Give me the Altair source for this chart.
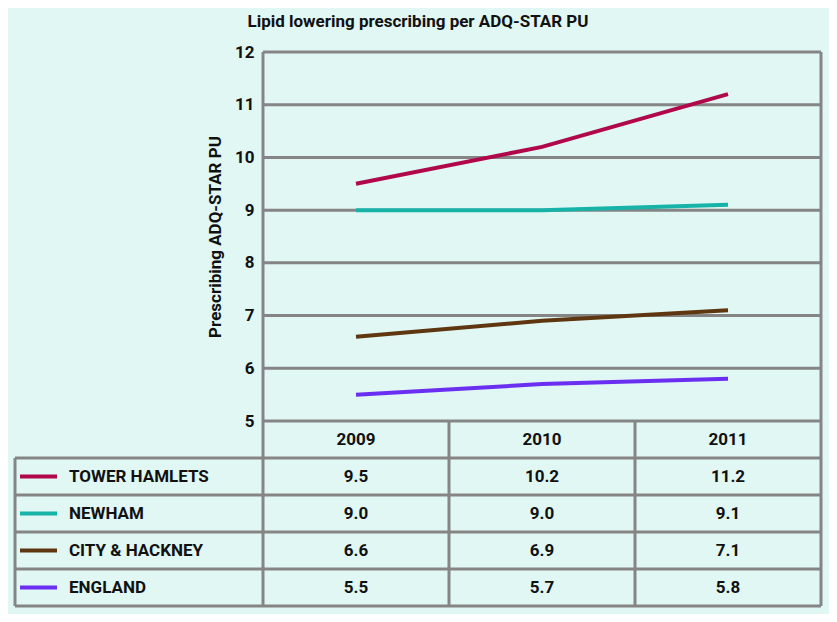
import altair as alt
import pandas as pd

# ---- data ----
years = [2009, 2010, 2011]
series = ["TOWER HAMLETS", "NEWHAM", "CITY & HACKNEY", "ENGLAND"]
tower_hamlets = [9.5, 10.2, 11.2]
newham = [9.0, 9.0, 9.1]
city_hackney = [6.6, 6.9, 7.1]
england = [5.5, 5.7, 5.8]
colors = ["#b0084a", "#17b3a8", "#5e3710", "#6a2ff0"]
y_ticks = [5, 6, 7, 8, 9, 10, 11, 12]
title_text = "Lipid lowering prescribing per ADQ-STAR PU"
y_title = "Prescribing ADQ-STAR PU"

FONT = "Roboto"
GRID = "#858585"
INK = "#111111"
BG = "#e0f7f4"
FS = 17

values = [tower_hamlets, newham, city_hackney, england]
rows = []
for i, s in enumerate(series):
    for j, yr in enumerate(years):
        rows.append({"series": s, "year": yr, "value": values[i][j], "row": i + 1.5,
                     "label": f"{values[i][j]:.1f}"})
df = pd.DataFrame(rows)

# ---- layout ----
W, H = 806, 554          # whole grid incl. table
PLOT_H = 369             # line-chart part
COL_PX = 186
label_units = 248 / COL_PX
x_min = years[0] - 0.5 - label_units
x_max = years[-1] + 0.5
n_rows = len(series) + 1

xs = alt.Scale(domain=[x_min, x_max], nice=False, zero=False)
ys_plot = alt.Scale(domain=[min(y_ticks), max(y_ticks)], range=[PLOT_H, 0], nice=False, zero=False)
ys_tab = alt.Scale(domain=[0, n_rows], range=[PLOT_H, H], nice=False, zero=False)
cscale = alt.Scale(domain=series, range=colors)

grid_df = pd.DataFrame({"y": y_ticks, "x": years[0] - 0.5, "x2": years[-1] + 0.5})
pv_df = pd.DataFrame({"x": [years[0] - 0.5, years[-1] + 0.5], "y": min(y_ticks), "y2": max(y_ticks)})
th_df = pd.DataFrame({"r": list(range(1, n_rows + 1)), "x": x_min, "x2": x_max})
edges = [y - 0.5 for y in years] + [years[-1] + 0.5]
tv_df = pd.DataFrame({"x": edges + [x_min], "r": [0] * len(edges) + [1], "r2": n_rows})
head_df = pd.DataFrame({"year": years, "r": 0.5, "label": [str(y) for y in years]})
lab_df = pd.DataFrame({"series": series, "r": [i + 1.5 for i in range(len(series))], "x": x_min})

grid = alt.Chart(grid_df).mark_rule(color=GRID, strokeWidth=3).encode(
    x=alt.X("x:Q", scale=xs, axis=None),
    x2="x2:Q",
    y=alt.Y("y:Q", scale=ys_plot, axis=alt.Axis(
        values=y_ticks, offset=-int(round(label_units * COL_PX)), grid=False, domain=False,
        ticks=False, labelFont=FONT, labelFontSize=FS, labelFontWeight="bold", labelColor=INK,
        labelPadding=9, title=y_title, titleFont=FONT, titleFontSize=17, titleFontWeight="bold",
        titleColor=INK, titlePadding=10)),
)
plot_v = alt.Chart(pv_df).mark_rule(color=GRID, strokeWidth=3).encode(
    x=alt.X("x:Q", scale=xs, axis=None),
    y=alt.Y("y:Q", scale=ys_plot, axis=None), y2="y2:Q",
)
lines = alt.Chart(df).mark_line(strokeWidth=4).encode(
    x=alt.X("year:Q", scale=xs, axis=None),
    y=alt.Y("value:Q", scale=ys_plot, axis=None),
    color=alt.Color("series:N", scale=cscale, legend=None),
    detail="series:N",
)
tab_h = alt.Chart(th_df).mark_rule(color=GRID, strokeWidth=3).encode(
    x=alt.X("x:Q", scale=xs, axis=None), x2="x2:Q",
    y=alt.Y("r:Q", scale=ys_tab, axis=None),
)
tab_v = alt.Chart(tv_df).mark_rule(color=GRID, strokeWidth=3).encode(
    x=alt.X("x:Q", scale=xs, axis=None),
    y=alt.Y("r:Q", scale=ys_tab, axis=None), y2="r2:Q",
)
head = alt.Chart(head_df).mark_text(font=FONT, fontSize=FS, fontWeight="bold", color=INK, baseline="middle").encode(
    x=alt.X("year:Q", scale=xs, axis=None),
    y=alt.Y("r:Q", scale=ys_tab, axis=None),
    text="label:N",
)
vals = alt.Chart(df).mark_text(font=FONT, fontSize=FS, fontWeight="bold", color=INK, baseline="middle").encode(
    x=alt.X("year:Q", scale=xs, axis=None),
    y=alt.Y("row:Q", scale=ys_tab, axis=None),
    text="label:N",
)
labs = alt.Chart(lab_df).mark_text(font=FONT, fontSize=FS, fontWeight="bold", color=INK,
                                   baseline="middle", align="left", dx=54).encode(
    x=alt.X("x:Q", scale=xs, axis=None),
    y=alt.Y("r:Q", scale=ys_tab, axis=None),
    text="series:N",
)
swatch = alt.Chart(lab_df).mark_rule(strokeWidth=4).encode(
    x=alt.value(5), x2=alt.value(42),
    y=alt.Y("r:Q", scale=ys_tab, axis=None),
    color=alt.Color("series:N", scale=cscale, legend=None),
)

chart = alt.layer(grid, plot_v, lines, tab_h, tab_v, head, vals, labs, swatch).resolve_scale(
    y="independent"
).properties(
    width=W, height=H,
    title=alt.TitleParams(title_text, font=FONT, fontSize=17, fontWeight="bold", color=INK,
                          anchor="middle", offset=12),
    background=BG,
    padding={"left": 7, "top": 44, "right": 8, "bottom": 8},
    autosize=alt.AutoSizeParams(type="none"),
).configure_view(stroke=None)

chart.save("out.html", embed_options={"renderer": "svg", "actions": False})
